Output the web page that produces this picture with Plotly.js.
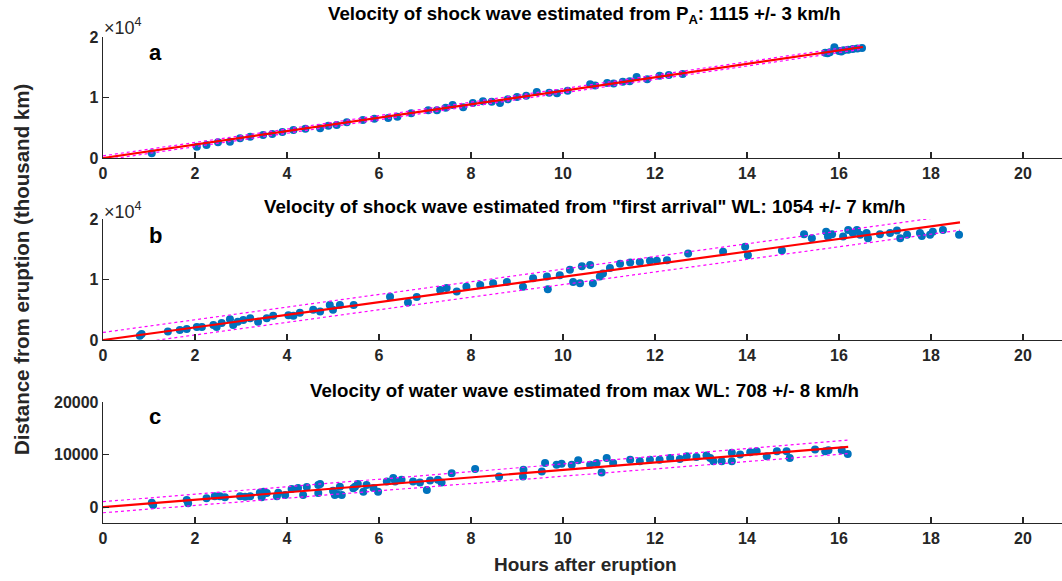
<!DOCTYPE html>
<html>
<head>
<meta charset="utf-8">
<script src="https://cdn.plot.ly/plotly-3.0.1.min.js"></script>
<style>html,body{margin:0;padding:0;background:#fff;}#chart{width:1062px;height:581px;}</style>
</head>
<body>
<div id="chart"></div>
<script>
// ---------- Panel a : shock wave from P_A ----------
const aHours = [1.06,2.04,2.25,2.5,2.76,2.98,3.2,3.48,3.68,3.9,4.14,4.4,4.72,4.9,5.08,5.3,5.65,5.9,6.2,6.4,6.7,7.07,7.26,7.45,7.6,7.83,8.04,8.26,8.45,8.63,8.8,9.0,9.2,9.43,9.7,9.87,10.1,10.59,10.7,10.96,11.1,11.3,11.45,11.6,11.83,12.1,12.3,12.6,15.7,15.75,15.8,15.9,16.0,16.05,16.1,16.2,16.3,16.4,16.5];
const aDist  = [780,1870,2150,2600,2700,3250,3500,3800,3950,4300,4630,4850,4900,5350,5450,5900,6300,6500,6600,6800,7400,7900,7900,8300,8750,8400,9100,9400,9300,9100,9700,10100,10300,10900,10800,10700,11100,12200,12000,12400,12300,12600,12700,13400,13000,13600,13700,13900,17400,17300,17500,18300,17700,17600,17800,17900,18000,18100,18200];
const aFitHours = [0, 16.52];
const aFit   = [0, 18350];
const aUpper = [350, 18700];
const aLower = [-350, 18000];

// ---------- Panel b : shock wave from "first arrival" WL ----------
const bHours = [0.8,0.84,1.41,1.67,1.82,2.04,2.15,2.4,2.47,2.58,2.76,2.83,2.93,3.05,3.2,3.37,3.56,3.7,4.03,4.14,4.28,4.57,4.72,4.93,5.0,5.15,5.45,6.24,6.63,6.82,7.33,7.47,7.69,7.9,8.2,8.48,8.78,9.13,9.35,9.65,9.67,9.93,10.15,10.22,10.37,10.41,10.59,10.65,10.8,10.87,11.02,11.24,11.46,11.67,11.89,12.04,12.26,12.72,13.48,13.96,14.02,14.76,15.24,15.41,15.72,15.76,15.85,16.09,16.2,16.3,16.39,16.46,16.6,16.63,16.89,17.11,17.26,17.33,17.48,17.76,17.8,17.98,18.04,18.26,18.61];
const bDist  = [700,1000,1400,1650,1800,2150,2150,2500,2150,2800,3450,2500,3000,3300,3600,3000,3600,4000,4100,4000,4500,5000,4700,5800,5000,5800,5800,7150,6200,7100,8250,8600,8000,8800,9100,9400,9600,8800,10200,10500,8400,10700,11600,9600,9400,12200,12400,9400,10500,11000,11900,12600,12800,12900,13100,13100,13200,14300,14600,15400,14000,14800,17500,16800,17900,17100,17500,17100,18200,17700,18200,17400,17700,16800,17500,17700,18100,16800,17400,17700,17200,17400,17900,18200,17400];
const bFitHours = [0, 18.63];
const bFit   = [0, 19450];
const bUpper = [1250, 20750];
const bLower = [-1250, 18150];

// ---------- Panel c : water wave from max WL ----------
const cHours = [1.06,1.09,1.82,1.85,2.25,2.43,2.54,2.65,2.98,3.09,3.2,3.41,3.45,3.49,3.56,3.78,3.81,3.96,4.1,4.24,4.35,4.43,4.68,4.68,4.72,5.0,5.04,5.08,5.15,5.19,5.44,5.48,5.54,5.66,5.73,5.88,5.98,6.17,6.31,6.35,6.49,6.74,6.89,7.04,7.11,7.28,7.36,7.58,8.09,8.61,9.13,9.14,9.54,9.61,9.86,9.97,10.19,10.33,10.59,10.73,10.84,10.95,11.09,11.46,11.67,11.89,12.1,12.33,12.54,12.69,12.9,13.12,13.2,13.27,13.45,13.67,13.67,13.85,14.07,14.21,14.43,14.65,14.86,14.93,15.48,15.7,15.77,16.06,16.19];
const cDist  = [830,400,1350,750,1700,2100,2100,1900,2100,2000,2100,2750,1900,2950,2700,2100,2750,2300,3450,3650,2300,3850,4200,2700,4400,3150,2300,2500,3900,2300,3600,3900,4400,2950,4230,3650,2950,4870,5570,4870,5200,4870,4680,3270,5060,5200,4680,6480,7250,5830,5830,7120,6800,8400,8080,8270,8080,8910,8080,8400,6600,9360,8400,9040,8720,9040,9040,9360,9170,9680,9550,9810,9360,8720,8720,8720,10330,10000,10450,10640,9680,10640,10640,9360,10960,10640,10830,10830,10130];
const cFitHours = [0, 8, 16.2];
const cFit   = [0, 5660, 11470];
const cUpper = [1050, 6750, 12750];
const cLower = [-1050, 4570, 10200];

// ---------- text ----------
const panelTitles = [
  'Velocity of shock wave estimated from P<sub>A</sub>: 1115 +/- 3 km/h',
  'Velocity of shock wave estimated from "first arrival" WL: 1054 +/- 7 km/h',
  'Velocity of water wave estimated from max WL: 708 +/- 8 km/h'
];
const panelLetters = ['a','b','c'];
const xTicks = [0,2,4,6,8,10,12,14,16,18,20];
const yTicksAB = [0,10000,20000];
const yTickTextAB = ['0','1','2'];
const yTicksC = [0,10000,20000];
const yTickTextC = ['0','10000','20000'];
const xTitle = 'Hours after eruption';
const yTitle = 'Distance from eruption (thousand km)';

// ---------- drawing ----------
const FONT = 'Liberation Sans, Arial, Helvetica, sans-serif';
const AX = '#262626';
const BLUE = '#0072BD';

const panels = [
  {h:aHours, d:aDist, fh:aFitHours, f:aFit, up:aUpper, lo:aLower, xa:'x', ya:'y'},
  {h:bHours, d:bDist, fh:bFitHours, f:bFit, up:bUpper, lo:bLower, xa:'x2', ya:'y2'},
  {h:cHours, d:cDist, fh:cFitHours, f:cFit, up:cUpper, lo:cLower, xa:'x3', ya:'y3'}
];

const traces = [];
panels.forEach(p => {
  traces.push({x:p.h, y:p.d, xaxis:p.xa, yaxis:p.ya, type:'scatter', mode:'markers',
    marker:{color:BLUE, size:8, line:{width:0}}, hoverinfo:'x+y', showlegend:false});
  traces.push({x:p.fh, y:p.f, xaxis:p.xa, yaxis:p.ya, type:'scatter', mode:'lines',
    line:{color:'#FF0000', width:2.2}, showlegend:false});
  traces.push({x:p.fh, y:p.up, xaxis:p.xa, yaxis:p.ya, type:'scatter', mode:'lines',
    line:{color:'#FF00FF', width:1.2, dash:'dot'}, showlegend:false});
  traces.push({x:p.fh, y:p.lo, xaxis:p.xa, yaxis:p.ya, type:'scatter', mode:'lines',
    line:{color:'#FF00FF', width:1.2, dash:'dot'}, showlegend:false});
});

const tickfont = {family:FONT, size:16, color:AX, weight:'bold'};
function xax(anchor){
  return {domain:[0,1], range:[0,20.848], anchor:anchor, showline:true, linecolor:AX, linewidth:1.3,
    ticks:'inside', ticklen:6, tickwidth:1.3, tickcolor:AX, tickvals:xTicks, showgrid:false, zeroline:false,
    tickfont:tickfont, fixedrange:true};
}
function yax(anchor, dom, range, tv, tt){
  return {domain:dom, range:range, anchor:anchor, showline:true, linecolor:AX, linewidth:1.3,
    ticks:'inside', ticklen:6, tickwidth:1.3, tickcolor:AX, tickvals:tv, ticktext:tt,
    showgrid:false, zeroline:false, tickfont:tickfont, fixedrange:true};
}

const H = 486, TOP = 37;
function py(p){ return (523 - p)/H; }
function px(p){ return (p - 103)/959; }

const annotations = [];
const titleY = [15, 207, 390];
const letterY = [52, 235, 416];
panelTitles.forEach((t,i) => {
  annotations.push({text:'<b>'+t+'</b>', xref:'paper', yref:'paper', x:px(584), y:py(titleY[i]),
    xanchor:'center', yanchor:'middle', showarrow:false, font:{family:FONT, size:18.7, color:'#000'}});
  annotations.push({text:'<b>'+panelLetters[i]+'</b>', xref:'paper', yref:'paper', x:px(155), y:py(letterY[i]),
    xanchor:'center', yanchor:'middle', showarrow:false, font:{family:FONT, size:22, color:'#000'}});
});
[26, 210].forEach(y => {
  annotations.push({text:'×10<sup>4</sup>', xref:'paper', yref:'paper', x:px(102), y:py(y),
    xanchor:'left', yanchor:'middle', showarrow:false, font:{family:FONT, size:18, color:AX}});
});
annotations.push({text:'<b>'+xTitle+'</b>', xref:'paper', yref:'paper', x:px(585), y:py(564),
  xanchor:'center', yanchor:'middle', showarrow:false, font:{family:FONT, size:19, color:AX}});
annotations.push({text:'<b>'+yTitle+'</b>', xref:'paper', yref:'paper', x:px(21), y:py(270), textangle:-90,
  xanchor:'center', yanchor:'middle', showarrow:false, font:{family:FONT, size:20.5, color:AX}});

const layout = {
  width:1062, height:581,
  margin:{l:103, r:0, t:TOP, b:58, pad:0},
  paper_bgcolor:'#fff', plot_bgcolor:'#fff',
  showlegend:false,
  font:{family:FONT},
  xaxis: xax('y'),
  xaxis2: xax('y2'),
  xaxis3: xax('y3'),
  yaxis: yax('x', [py(158), 1], [0,20000], yTicksAB, yTickTextAB),
  yaxis2: yax('x2', [py(340), py(219)], [0,20000], yTicksAB, yTickTextAB),
  yaxis3: yax('x3', [0, py(402)], [-3000,20000], yTicksC, yTickTextC),
  annotations: annotations
};

Plotly.newPlot('chart', traces, layout, {displayModeBar:false, staticPlot:true});
</script>
</body>
</html>
